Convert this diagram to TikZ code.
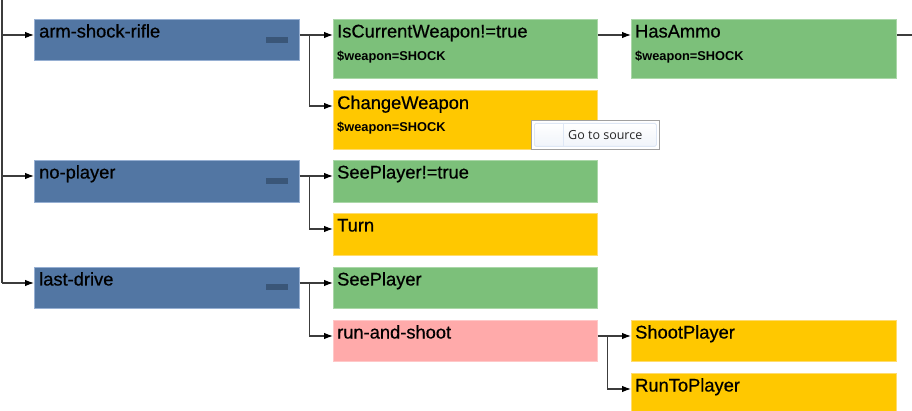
\documentclass[tikz,border=0pt]{standalone}
\usepackage{fontspec}
\setmainfont{Liberation Sans}
\newfontfamily\lblfont[FakeBold=0.6]{Liberation Sans}
\newfontfamily\tipfont{Open Sans}
\usetikzlibrary{arrows.meta,calc}
\definecolor{cblue}{RGB}{82,118,163}
\definecolor{cblueb}{RGB}{150,175,210}
\definecolor{cminus}{RGB}{58,86,120}
\definecolor{cgreen}{RGB}{124,192,122}
\definecolor{cgreenb}{RGB}{170,215,168}
\definecolor{corange}{RGB}{255,200,0}
\definecolor{corangeb}{RGB}{255,220,110}
\definecolor{cpink}{RGB}{255,170,170}
\definecolor{cpinkb}{RGB}{255,200,200}
\definecolor{cline}{RGB}{60,60,60}
\definecolor{ctipb}{RGB}{160,160,160}
\definecolor{ctipin}{RGB}{222,231,245}
\definecolor{ctipfill}{RGB}{240,244,250}
\tikzset{
  box/.style={rectangle, anchor=north west, inner sep=0pt, line width=0.8pt},
  bluebox/.style={box, fill=cblue, draw=cblueb},
  greenbox/.style={box, fill=cgreen, draw=cgreenb},
  orangebox/.style={box, fill=corange, draw=corangeb},
  pinkbox/.style={box, fill=cpink, draw=cpinkb},
  minusbar/.style={rectangle, anchor=north west, inner sep=0pt, fill=cminus, minimum width=22pt, minimum height=6pt},
  mainlbl/.style={anchor=base west, inner sep=0pt, font=\lblfont\fontsize{18.3}{20}\selectfont, text=black},
  sublbl/.style={anchor=base west, inner sep=0pt, font=\fontsize{12.8}{14}\selectfont\bfseries, text=black},
  wire/.style={draw=cline, line width=1.1pt},
  arr/.style={wire, -{Latex[length=9pt,width=6.5pt,color=black]}},
}
\begin{document}
\begin{tikzpicture}[x=1pt,y=-1pt]
\useasboundingbox (0,0) rectangle (912,411);
\clip (0,0) rectangle (912,411);
\fill[white] (0,0) rectangle (912,411);
% helper coordinates
\coordinate (top) at (2,0);
\coordinate (rightedge) at (912,0);
% blue boxes
\node[bluebox, minimum width=265pt, minimum height=41pt] (asr) at (34,19) {};
\node[bluebox, minimum width=265pt, minimum height=42pt] (np) at (34,160) {};
\node[bluebox, minimum width=265pt, minimum height=41pt] (ld) at (34,267) {};
% second column
\node[greenbox, minimum width=264pt, minimum height=59pt] (icw) at (333,19) {};
\node[orangebox, minimum width=264pt, minimum height=59pt] (cw) at (333,90) {};
\node[greenbox, minimum width=264pt, minimum height=42pt] (spt) at (333,160) {};
\node[orangebox, minimum width=264pt, minimum height=42pt] (turn) at (333,213) {};
\node[greenbox, minimum width=264pt, minimum height=41pt] (sp) at (333,267) {};
\node[pinkbox, minimum width=264pt, minimum height=41pt] (ras) at (333,320) {};
% third column
\node[greenbox, minimum width=265pt, minimum height=59pt] (ha) at (631,19) {};
\node[orangebox, minimum width=265pt, minimum height=41pt] (shp) at (631,320) {};
\node[orangebox, minimum width=265pt, minimum height=46pt] (rtp) at (631,373) {};
% minus bars
\node[minusbar] (asrm) at (266,37) {};
\node[minusbar] (npm) at (266,178) {};
\node[minusbar] (ldm) at (266,284) {};
% labels
\node[mainlbl] (asrt) at ($(asr.north west)+(5,18.5)$) {arm-shock-rifle};
\node[mainlbl] (npt) at ($(np.north west)+(5,18.5)$) {no-player};
\node[mainlbl] (ldt) at ($(ld.north west)+(5,18.5)$) {last-drive};
\node[mainlbl] (icwt) at ($(icw.north west)+(4,18.5)$) {IsCurrentWeapon!=true};
\node[sublbl] (icws) at ($(icw.north west)+(4,41.5)$) {\$weapon=SHOCK};
\node[mainlbl] (cwt) at ($(cw.north west)+(4,19)$) {ChangeWeapon};
\node[sublbl] (cws) at ($(cw.north west)+(4,41.5)$) {\$weapon=SHOCK};
\node[mainlbl] (sptt) at ($(spt.north west)+(4,18.5)$) {SeePlayer!=true};
\node[mainlbl] (turnt) at ($(turn.north west)+(4,18.5)$) {Turn};
\node[mainlbl] (spt2) at ($(sp.north west)+(4,18.5)$) {SeePlayer};
\node[mainlbl] (rast) at ($(ras.north west)+(4,18.5)$) {run-and-shoot};
\node[mainlbl] (hat) at ($(ha.north west)+(4,18.5)$) {HasAmmo};
\node[sublbl] (has) at ($(ha.north west)+(4,41.5)$) {\$weapon=SHOCK};
\node[mainlbl] (shpt) at ($(shp.north west)+(4,18.5)$) {ShootPlayer};
\node[mainlbl] (rtpt) at ($(rtp.north west)+(4,18.5)$) {RunToPlayer};
% entry / exit coordinates
\foreach \n in {asr,np,ld,icw,cw,spt,turn,sp,ras,ha,shp,rtp}{
  \coordinate (\n-in) at ($(\n.north west)+(0,16)$);
  \coordinate (\n-out) at ($(\n.north east)+(0,16)$);
}
% connectors
\draw[wire] (top) -- (ld-in -| top);
\draw[arr] (asr-in -| top) -- (asr-in);
\draw[arr] (np-in -| top) -- (np-in);
\draw[arr] (ld-in -| top) -- (ld-in);
\draw[arr] (asr-out) -- (icw-in);
\draw[arr] (asr-out) -- ++(10,0) |- (cw-in);
\draw[arr] (np-out) -- (spt-in);
\draw[arr] (np-out) -- ++(10,0) |- (turn-in);
\draw[arr] (ld-out) -- (sp-in);
\draw[arr] (ld-out) -- ++(10,0) |- (ras-in);
\draw[arr] (icw-out) -- (ha-in);
\draw[wire] (ha-out) -- (ha-out -| rightedge);
\draw[arr] (ras-out) -- (shp-in);
\draw[arr] (ras-out) -- ++(10,0) |- (rtp-in);
% tooltip
\node[rectangle, anchor=north west, inner sep=0pt, minimum width=128pt, minimum height=29pt, fill=white, draw=ctipb, line width=0.8pt] (tip) at (531,120) {};
\node[rectangle, anchor=north west, inner sep=0pt, minimum width=122pt, minimum height=23pt, top color=white, bottom color=ctipfill, draw=ctipin, line width=0.8pt, rounded corners=1.5pt] (tipin) at (534,123) {};
\draw[draw=ctipin, line width=0.6pt] ($(tipin.north west)+(29,1)$) coordinate (sepa) -- ($(tipin.south west)+(29,-1)$) coordinate (sepb);
\node[anchor=base west, inner sep=0pt, font=\tipfont\fontsize{12.5}{14}\selectfont, text=black!85] (tipt) at (568,140) {Go to source};
\end{tikzpicture}
\end{document}
